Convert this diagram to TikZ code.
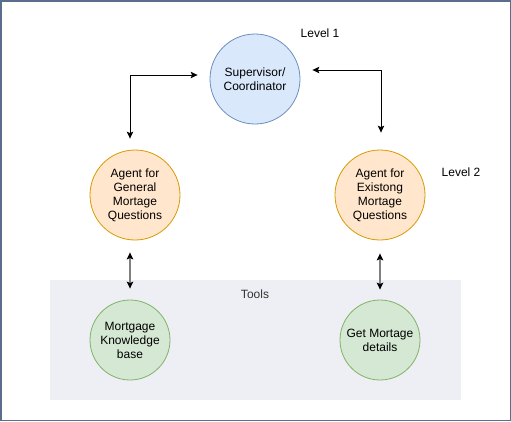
\documentclass[tikz,border=0pt]{standalone}
\usepackage{fontspec}
\setmainfont{Liberation Sans}
\usetikzlibrary{arrows.meta,calc}
\definecolor{framec}{HTML}{5B6D8C}
\definecolor{bluef}{HTML}{DAE8FC}
\definecolor{blues}{HTML}{6C8EBF}
\definecolor{orangef}{HTML}{FFE6CC}
\definecolor{oranges}{HTML}{D79B00}
\definecolor{greenf}{HTML}{D5E8D4}
\definecolor{greens}{HTML}{82B366}
\definecolor{toolsf}{HTML}{EEEFF4}
\definecolor{linegray}{HTML}{808080}
\begin{document}
\begin{tikzpicture}[x=1pt,y=-1pt,
  every node/.style={font=\fontsize{12}{14}\selectfont, inner sep=0pt},
  circ/.style={circle, minimum size=#1, align=center, line width=0.8pt},
  supc/.style={circ=90pt, fill=bluef, draw=blues},
  agentc/.style={circ=90pt, fill=orangef, draw=oranges},
  toolc/.style={circ=80pt, fill=greenf, draw=greens},
  arr/.style={line width=1pt, {Stealth[length=7pt,width=6.5pt,inset=1.5pt]}-{Stealth[length=7pt,width=6.5pt,inset=1.5pt]}},
  varr/.style={line width=1.5pt, draw=linegray, {Stealth[length=7pt,width=6.5pt,inset=1.5pt,color=black]}-{Stealth[length=7pt,width=6.5pt,inset=1.5pt,color=black]}},
  lbl/.style={text=black}
]
\useasboundingbox (0,0) rectangle (511,421);
\draw[framec, line width=1.5pt] (0.75,0.75) rectangle (510.25,420.25);
\fill[toolsf] (50,280) rectangle (461,400);
\node[text=black!80] (toolslbl) at (255,294) {Tools};

\node[supc] (sup) at (255,79) {Supervisor/\\Coordinator};
\node[agentc] (ag1) at (135,195) {Agent for\\General\\Mortage\\Questions};
\node[agentc] (ag2) at (380,195) {Agent for\\Existong\\Mortage\\Questions};
\node[toolc] (kb) at (130,340) {Mortgage\\Knowledge\\base};
\node[toolc] (gd) at (380,340) {Get Mortage\\details};

\node[lbl] (lv1) at (320,33) {Level 1};
\node[lbl] (lv2) at (461,172) {Level 2};

\draw[arr] ($(sup.west)+(-12,-4)$) -| ($(ag1.north)+(-5,-11)$);
\draw[arr] ($(sup.east)+(12,-9)$) -| ($(ag2.north)+(1,-17)$);
\draw[varr] ($(ag1.south)+(-5,12)$) -- ($(kb.north)+(0,-11)$);
\draw[varr] ($(ag2.south)+(0,13)$) -- ($(gd.north)+(0,-10)$);
\end{tikzpicture}
\end{document}
